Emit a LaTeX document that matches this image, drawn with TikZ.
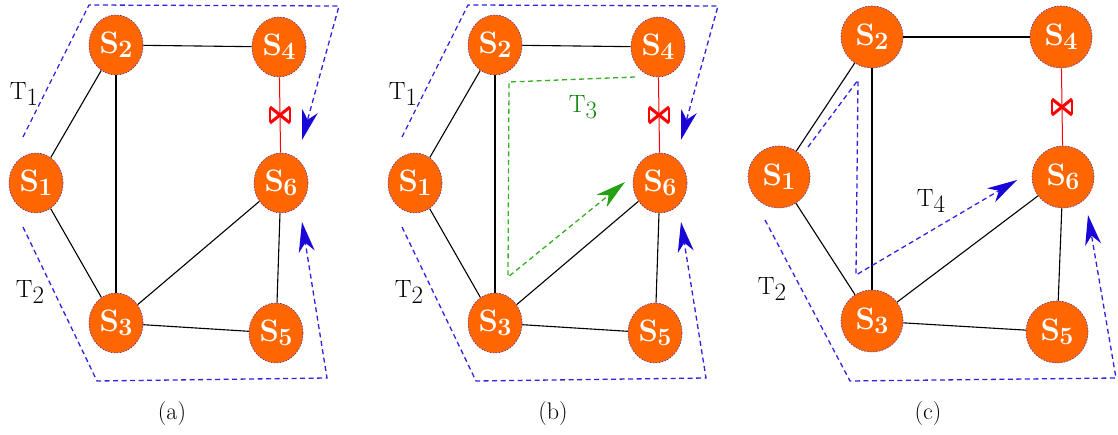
\documentclass[tikz,border=0pt]{standalone}
\usepackage{fontspec}
\usetikzlibrary{arrows.meta,shapes.geometric}
\definecolor{norange}{RGB}{255,102,0}
\definecolor{nedge}{RGB}{80,50,170}
\definecolor{tblue}{RGB}{45,35,225}
\definecolor{tipblue}{RGB}{25,5,215}
\definecolor{tgreen}{RGB}{55,175,35}
\definecolor{tipgreen}{RGB}{35,160,20}
\definecolor{tgreentext}{RGB}{10,130,10}
\newcommand{\slab}[1]{S\kern-0.5pt\raisebox{-4pt}{\fontsize{25}{25}\selectfont #1}}
\newcommand{\tlab}[1]{T\raisebox{-6pt}{#1}}
\begin{document}
\begin{tikzpicture}[x=1pt,y=-1pt,
  sn/.style={ellipse, fill=norange, draw=nedge, dash pattern=on 1.5pt off 1.5pt, line width=0.6pt,
    minimum width=54pt, minimum height=60pt, inner sep=0pt, text=white,
    font=\fontsize{31}{31}\selectfont\bfseries},
  snc/.style={sn, minimum width=62pt, minimum height=62pt},
  gedge/.style={black, line width=1.1pt},
  redge/.style={red, line width=1pt},
  xmark/.style={red, line width=3pt, solid, line cap=butt},
  xbar/.style={red, line width=1.4pt, solid},
  tpath/.style={tblue, line width=1.3pt, dash pattern=on 5pt off 3.5pt,
    -{Stealth[length=30pt,width=16pt,inset=9pt,color=tipblue]}},
  gpath/.style={tgreen, line width=1.3pt, dash pattern=on 5pt off 3.5pt,
    -{Stealth[length=30pt,width=16pt,inset=9pt,color=tipgreen]}},
  tlabel/.style={font=\fontsize{25}{25}\selectfont, inner sep=0pt},
  caplabel/.style={font=\fontsize{24}{24}\selectfont, inner sep=0pt}]
\useasboundingbox (0,0) rectangle (1118,435);

% ---------- panel (a) ----------
\node[sn] (a1) at (36,183) {\slab{1}};
\node[sn] (a2) at (116,45) {\slab{2}};
\node[sn] (a4) at (279,47) {\slab{4}};
\node[sn] (a6) at (281,183) {\slab{6}};
\node[sn] (a3) at (116,323) {\slab{3}};
\node[sn] (a5) at (276,333) {\slab{5}};
\draw[gedge] (a2) -- (a4);
\draw[gedge] (a2) -- (a1);
\draw[gedge] (a2) -- (a3);
\draw[gedge] (a1) -- (a3);
\draw[gedge] (a3) -- (a5);
\draw[gedge] (a3) -- (a6);
\draw[gedge] (a6) -- (a5);
\draw[redge] (a4) -- (a6) coordinate[midway] (ax);
\draw[xmark] ([shift={(-10,-8)}]ax) -- ([shift={(10,8)}]ax) ([shift={(10,-8)}]ax) -- ([shift={(-10,8)}]ax);
\draw[xbar] ([shift={(-10,-7)}]ax) -- ([shift={(-10,7)}]ax) ([shift={(10,-7)}]ax) -- ([shift={(10,7)}]ax);
\coordinate (at1a) at (23,137); \coordinate (at1b) at (89,5); \coordinate (at1c) at (339,6); \coordinate (at1d) at (302,140);
\coordinate (at2a) at (23,227); \coordinate (at2b) at (97,381); \coordinate (at2c) at (327,378); \coordinate (at2d) at (302,222);
\draw[tpath] (at1a) -- (at1b) -- (at1c) -- (at1d);
\draw[tpath] (at2a) -- (at2b) -- (at2c) -- (at2d);
\node[tlabel] (atl1) at (24,94) {\tlab{1}};
\node[tlabel] (atl2) at (30,292) {\tlab{2}};
\node[caplabel] (acap) at (172,414) {(a)};

% ---------- panel (b) ----------
\begin{scope}[xshift=379pt]
\node[sn] (b1) at (36,183) {\slab{1}};
\node[sn] (b2) at (116,45) {\slab{2}};
\node[sn] (b4) at (279,47) {\slab{4}};
\node[sn] (b6) at (281,183) {\slab{6}};
\node[sn] (b3) at (116,323) {\slab{3}};
\node[sn] (b5) at (276,333) {\slab{5}};
\draw[gedge] (b2) -- (b4);
\draw[gedge] (b2) -- (b1);
\draw[gedge] (b2) -- (b3);
\draw[gedge] (b1) -- (b3);
\draw[gedge] (b3) -- (b5);
\draw[gedge] (b3) -- (b6);
\draw[gedge] (b6) -- (b5);
\draw[redge] (b4) -- (b6) coordinate[midway] (bx);
\draw[xmark] ([shift={(-10,-8)}]bx) -- ([shift={(10,8)}]bx) ([shift={(10,-8)}]bx) -- ([shift={(-10,8)}]bx);
\draw[xbar] ([shift={(-10,-7)}]bx) -- ([shift={(-10,7)}]bx) ([shift={(10,-7)}]bx) -- ([shift={(10,7)}]bx);
\coordinate (bt1a) at (23,137); \coordinate (bt1b) at (89,5); \coordinate (bt1c) at (339,6); \coordinate (bt1d) at (302,140);
\coordinate (bt2a) at (23,227); \coordinate (bt2b) at (97,381); \coordinate (bt2c) at (327,378); \coordinate (bt2d) at (302,222);
\draw[tpath] (bt1a) -- (bt1b) -- (bt1c) -- (bt1d);
\draw[tpath] (bt2a) -- (bt2b) -- (bt2c) -- (bt2d);
\coordinate (bg1) at (256,77); \coordinate (bg2) at (130,82); \coordinate (bg3) at (129,277); \coordinate (bg4) at (246,182);
\draw[gpath] (bg1) -- (bg2) -- (bg3) -- (bg4);
\node[tlabel] (btl1) at (24,94) {\tlab{1}};
\node[tlabel] (btl2) at (30,292) {\tlab{2}};
\node[tlabel, text=tgreentext] (btl3) at (204,107) {\tlab{3}};
\node[caplabel] (bcap) at (174,414) {(b)};
\end{scope}

% ---------- panel (c) ----------
\node[snc] (c1) at (779,177) {\slab{1}};
\node[snc] (c2) at (872,37) {\slab{2}};
\node[snc] (c4) at (1061,37) {\slab{4}};
\node[snc] (c6) at (1063,177) {\slab{6}};
\node[snc] (c3) at (872,321) {\slab{3}};
\node[snc] (c5) at (1057,332) {\slab{5}};
\draw[gedge] (c2) -- (c4);
\draw[gedge] (c2) -- (c1);
\draw[gedge] (c2) -- (c3);
\draw[gedge] (c1) -- (c3);
\draw[gedge] (c3) -- (c5);
\draw[gedge] (c3) -- (c6);
\draw[gedge] (c6) -- (c5);
\draw[redge] (c4) -- (c6) coordinate[midway] (cx);
\draw[xmark] ([shift={(-10,-8)}]cx) -- ([shift={(10,8)}]cx) ([shift={(10,-8)}]cx) -- ([shift={(-10,8)}]cx);
\draw[xbar] ([shift={(-10,-7)}]cx) -- ([shift={(-10,7)}]cx) ([shift={(10,-7)}]cx) -- ([shift={(10,7)}]cx);
\coordinate (ct4a) at (808,147); \coordinate (ct4b) at (858,80); \coordinate (ct4c) at (856,275); \coordinate (ct4d) at (1017,180);
\coordinate (ct2a) at (765,220); \coordinate (ct2b) at (850,381); \coordinate (ct2c) at (1116,378); \coordinate (ct2d) at (1088,215);
\draw[tpath] (ct4a) -- (ct4b) -- (ct4c) -- (ct4d);
\draw[tpath] (ct2a) -- (ct2b) -- (ct2c) -- (ct2d);
\node[tlabel] (ctl4) at (931,201) {\tlab{4}};
\node[tlabel] (ctl2) at (772,289) {\tlab{2}};
\node[caplabel] (ccap) at (928,414) {(c)};
\end{tikzpicture}
\end{document}
